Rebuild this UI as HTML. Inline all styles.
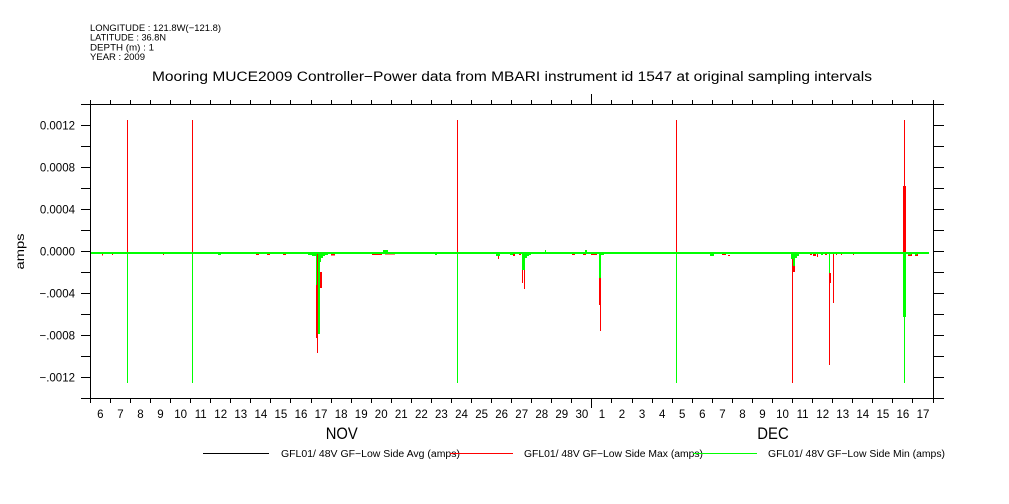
<!DOCTYPE html>
<html>
<head>
<meta charset="utf-8">
<style>
html,body{margin:0;padding:0;background:#fff;}
svg{display:block;}
text{font-family:"Liberation Sans",sans-serif;fill:#000;}
</style>
</head>
<body>
<svg width="1009" height="504" viewBox="0 0 1009 504" xmlns="http://www.w3.org/2000/svg">
<rect x="0" y="0" width="1009" height="504" fill="#fff"/>

<!-- header -->
<g font-size="9.5">
<text x="90" y="31" textLength="131" lengthAdjust="spacingAndGlyphs">LONGITUDE : 121.8W(−121.8)</text>
<text x="90" y="40.7" textLength="76" lengthAdjust="spacingAndGlyphs">LATITUDE : 36.8N</text>
<text x="90" y="50.3" textLength="64" lengthAdjust="spacingAndGlyphs">DEPTH (m) : 1</text>
<text x="90" y="60" textLength="55" lengthAdjust="spacingAndGlyphs">YEAR : 2009</text>
</g>
<text x="152" y="81" font-size="13.5" textLength="720" lengthAdjust="spacingAndGlyphs">Mooring MUCE2009 Controller−Power data from MBARI instrument id 1547 at original sampling intervals</text>

<!-- data: red (max) -->
<g fill="#ff0000" shape-rendering="crispEdges">
<rect x="127" y="120" width="1" height="132"/>
<rect x="192" y="120" width="1" height="132"/>
<rect x="457" y="120" width="1" height="132"/>
<rect x="676" y="120" width="1" height="132"/>
<rect x="904" y="120" width="1" height="132"/>
<rect x="792" y="252" width="1" height="131"/>
<rect x="316" y="285" width="2" height="53"/>
<rect x="317" y="252" width="1" height="101"/>
<rect x="320" y="272" width="2" height="16"/>
<rect x="522" y="252" width="1" height="31"/>
<rect x="524" y="252" width="1" height="37"/>
<rect x="599" y="278" width="2" height="27"/>
<rect x="600" y="252" width="1" height="79"/>
<rect x="793" y="252" width="2" height="20"/>
<rect x="829" y="252" width="1" height="113"/>
<rect x="830" y="273" width="1" height="10"/>
<rect x="833" y="252" width="1" height="51"/>
<rect x="903" y="186" width="3" height="66"/>
<rect x="102" y="254" width="1" height="1.5"/>
<rect x="112" y="254" width="1" height="1"/>
<rect x="163" y="254" width="1" height="1"/>
<rect x="256" y="254" width="3" height="1"/>
<rect x="267" y="254" width="3" height="1"/>
<rect x="283" y="254" width="3" height="1"/>
<rect x="331" y="254" width="4" height="1.5"/>
<rect x="372" y="254" width="10" height="1"/>
<rect x="385" y="253" width="10" height="1.5"/>
<rect x="421" y="253" width="1" height="1"/>
<rect x="498" y="254" width="1" height="5"/>
<rect x="513" y="254" width="2" height="2"/>
<rect x="519" y="254" width="2" height="1"/>
<rect x="572" y="254" width="3" height="1"/>
<rect x="583" y="254" width="3" height="1"/>
<rect x="591" y="254" width="6" height="1"/>
<rect x="712" y="254" width="2" height="2"/>
<rect x="722" y="254" width="4" height="1"/>
<rect x="728" y="255" width="2" height="1"/>
<rect x="810" y="254" width="2" height="1"/>
<rect x="813" y="254" width="3" height="2"/>
<rect x="817" y="254" width="1" height="3"/>
<rect x="825" y="254" width="2" height="1"/>
<rect x="836" y="254" width="1" height="1"/>
<rect x="841" y="254" width="1" height="1"/>
<rect x="853" y="254" width="1" height="1"/>
<rect x="908" y="254" width="4" height="2"/>
<rect x="915" y="254" width="3" height="2"/>
</g>

<!-- data: green (min) -->
<g fill="#00ff00" shape-rendering="crispEdges">
<rect x="90" y="252" width="839" height="2"/>
<rect x="127" y="252" width="1" height="131"/>
<rect x="192" y="252" width="1" height="131"/>
<rect x="457" y="252" width="1" height="131"/>
<rect x="676" y="252" width="1" height="131"/>
<rect x="904" y="252" width="1" height="131"/>
<rect x="308" y="253" width="4" height="2"/>
<rect x="312" y="254" width="4" height="2"/>
<rect x="316" y="254" width="1" height="31"/>
<rect x="318" y="252" width="2" height="82"/>
<rect x="320" y="252" width="1" height="10"/>
<rect x="321" y="252" width="2" height="6"/>
<rect x="323" y="252" width="2" height="4"/>
<rect x="325" y="252" width="3" height="3"/>
<rect x="218" y="252" width="3" height="3"/>
<rect x="383" y="250" width="5" height="2"/>
<rect x="435" y="252" width="2" height="3"/>
<rect x="496" y="252" width="4" height="4"/>
<rect x="510" y="252" width="3" height="3"/>
<rect x="522" y="252" width="3" height="18"/>
<rect x="525" y="252" width="2" height="6"/>
<rect x="527" y="252" width="2" height="4"/>
<rect x="529" y="252" width="2" height="3"/>
<rect x="545" y="250" width="1" height="2"/>
<rect x="585" y="250" width="2" height="2"/>
<rect x="599" y="252" width="2" height="26"/>
<rect x="601" y="252" width="3" height="3"/>
<rect x="710" y="252" width="4" height="4"/>
<rect x="791" y="252" width="2" height="7"/>
<rect x="793" y="252" width="2" height="14"/>
<rect x="795" y="252" width="2" height="6"/>
<rect x="797" y="252" width="2" height="4"/>
<rect x="821" y="252" width="2" height="3"/>
<rect x="829" y="252" width="1" height="21"/>
<rect x="903" y="252" width="3" height="65"/>
<rect x="908" y="252" width="3" height="3"/>
<rect x="915" y="252" width="2" height="3"/>
</g>

<!-- frame and ticks -->
<g stroke="#000" stroke-width="1" fill="none" shape-rendering="crispEdges">
<rect x="90.5" y="104.5" width="843" height="294"/>
<path d="M81 104.5H90M81 125.5H90M81 146.5H90M81 167.5H90M81 188.5H90M81 209.5H90M81 230.5H90M81 251.5H90M81 272.5H90M81 293.5H90M81 314.5H90M81 335.5H90M81 356.5H90M81 377.5H90M81 398.5H90"/>
<path d="M934 104.5H944M934 125.5H944M934 146.5H944M934 167.5H944M934 188.5H944M934 209.5H944M934 230.5H944M934 251.5H944M934 272.5H944M934 293.5H944M934 314.5H944M934 335.5H944M934 356.5H944M934 377.5H944M934 398.5H944"/>
<path d="M90.5 100V104M110.5 100V104M130.5 100V104M150.5 100V104M170.5 100V104M190.5 100V104M210.5 100V104M230.5 100V104M250.5 100V104M270.5 100V104M290.5 100V104M311.5 100V104M331.5 100V104M351.5 100V104M371.5 100V104M391.5 100V104M411.5 100V104M431.5 100V104M451.5 100V104M471.5 100V104M491.5 100V104M511.5 100V104M531.5 100V104M551.5 100V104M571.5 100V104M591.5 94V104M611.5 100V104M632.5 100V104M652.5 100V104M672.5 100V104M692.5 100V104M712.5 100V104M732.5 100V104M752.5 100V104M772.5 100V104M792.5 100V104M812.5 100V104M832.5 100V104M852.5 100V104M872.5 100V104M892.5 100V104M912.5 100V104M933.5 100V104"/>
<path d="M90.5 399V403M110.5 399V403M130.5 399V403M150.5 399V403M170.5 399V403M190.5 399V403M210.5 399V403M230.5 399V403M250.5 399V403M270.5 399V403M290.5 399V403M311.5 399V403M331.5 399V403M351.5 399V403M371.5 399V403M391.5 399V403M411.5 399V403M431.5 399V403M451.5 399V403M471.5 399V403M491.5 399V403M511.5 399V403M531.5 399V403M551.5 399V403M571.5 399V403M591.5 399V408M611.5 399V403M632.5 399V403M652.5 399V403M672.5 399V403M692.5 399V403M712.5 399V403M732.5 399V403M752.5 399V403M772.5 399V403M792.5 399V403M812.5 399V403M832.5 399V403M852.5 399V403M872.5 399V403M892.5 399V403M912.5 399V403M933.5 399V403"/>
</g>

<!-- y labels -->
<g font-size="11.5" text-anchor="end">
<text x="75" y="129.5">0.0012</text>
<text x="75" y="171.5">0.0008</text>
<text x="75" y="213.5">0.0004</text>
<text x="75" y="255.5">0.0000</text>
<text x="75" y="297.5">−.0004</text>
<text x="75" y="339.5">−.0008</text>
<text x="75" y="381.5">−.0012</text>
</g>
<text transform="translate(24,251.5) rotate(-90)" font-size="12" text-anchor="middle" textLength="36" lengthAdjust="spacingAndGlyphs">amps</text>

<!-- x labels -->
<g font-size="11.5" text-anchor="middle">
<text x="100.3" y="418">6</text>
<text x="120.4" y="418">7</text>
<text x="140.5" y="418">8</text>
<text x="160.5" y="418">9</text>
<text x="180.6" y="418">10</text>
<text x="200.7" y="418">11</text>
<text x="220.7" y="418">12</text>
<text x="240.8" y="418">13</text>
<text x="260.9" y="418">14</text>
<text x="280.9" y="418">15</text>
<text x="301" y="418">16</text>
<text x="321" y="418">17</text>
<text x="341.1" y="418">18</text>
<text x="361.2" y="418">19</text>
<text x="381.2" y="418">20</text>
<text x="401.3" y="418">21</text>
<text x="421.4" y="418">22</text>
<text x="441.4" y="418">23</text>
<text x="461.5" y="418">24</text>
<text x="481.6" y="418">25</text>
<text x="501.6" y="418">26</text>
<text x="521.7" y="418">27</text>
<text x="541.8" y="418">28</text>
<text x="561.8" y="418">29</text>
<text x="581.9" y="418">30</text>
<text x="602" y="418">1</text>
<text x="622" y="418">2</text>
<text x="642.1" y="418">3</text>
<text x="662.2" y="418">4</text>
<text x="682.2" y="418">5</text>
<text x="702.3" y="418">6</text>
<text x="722.4" y="418">7</text>
<text x="742.4" y="418">8</text>
<text x="762.5" y="418">9</text>
<text x="782.5" y="418">10</text>
<text x="802.6" y="418">11</text>
<text x="822.7" y="418">12</text>
<text x="842.7" y="418">13</text>
<text x="862.8" y="418">14</text>
<text x="882.9" y="418">15</text>
<text x="902.9" y="418">16</text>
<text x="923" y="418">17</text>
</g>
<text x="325.7" y="439" font-size="17" textLength="32" lengthAdjust="spacingAndGlyphs">NOV</text>
<text x="757.3" y="439" font-size="17" textLength="31.4" lengthAdjust="spacingAndGlyphs">DEC</text>

<!-- legend -->
<g font-size="10">
<text x="281" y="457" textLength="179" lengthAdjust="spacingAndGlyphs">GFL01/ 48V GF−Low Side Avg (amps)</text>
<text x="524" y="457" textLength="179" lengthAdjust="spacingAndGlyphs">GFL01/ 48V GF−Low Side Max (amps)</text>
<text x="768" y="457" textLength="177" lengthAdjust="spacingAndGlyphs">GFL01/ 48V GF−Low Side Min (amps)</text>
</g>
<g shape-rendering="crispEdges">
<rect x="203" y="453" width="66" height="1" fill="#000"/>
<rect x="450" y="453" width="63" height="1" fill="#ff0000"/>
<rect x="693" y="453" width="64" height="1" fill="#00ff00"/>
</g>
</svg>
</body>
</html>
